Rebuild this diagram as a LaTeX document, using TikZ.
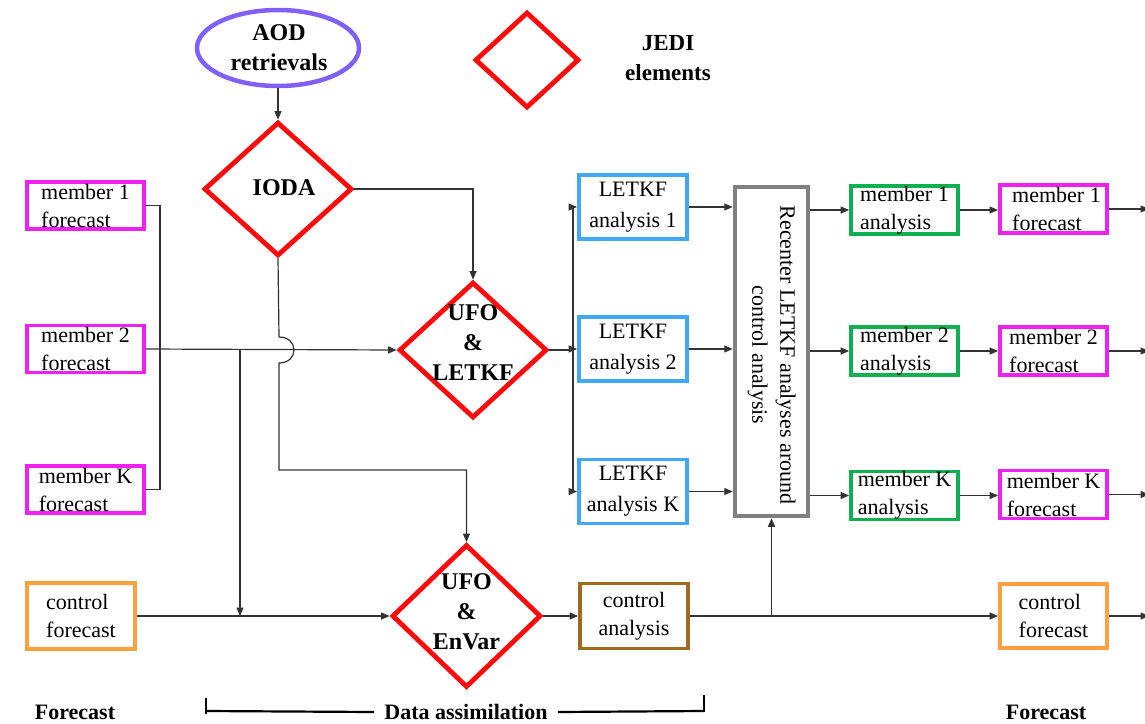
\documentclass[tikz,border=0pt]{standalone}
\usepackage{fontspec}
\setmainfont{Liberation Serif}
\usetikzlibrary{shapes.geometric,arrows.meta}
\definecolor{jred}{HTML}{FF0A0A}
\definecolor{jmag}{HTML}{F020F0}
\definecolor{jblue}{HTML}{40A8F5}
\definecolor{jgreen}{HTML}{10B050}
\definecolor{jorange}{HTML}{FFA040}
\definecolor{jbrown}{HTML}{9C6A20}
\definecolor{jgray}{HTML}{808080}
\definecolor{jpurple}{HTML}{8060F8}
\tikzset{
  box/.style={draw, line width=3.8pt, fill=white, inner sep=0pt, font=\fontsize{22}{28}\selectfont},
  magbox/.style={box, draw=jmag, minimum width=117pt, minimum height=47pt, align=left},
  bluebox/.style={box, draw=jblue, minimum width=108pt, minimum height=64pt, align=center, font=\fontsize{22}{31}\selectfont},
  greenbox/.style={box, draw=jgreen, minimum width=107pt, minimum height=48pt, align=left},
  orbox/.style={box, draw=jorange, minimum width=108pt, minimum height=66pt, align=left},
  dia/.style={draw=jred, line width=4.8pt, shape=diamond, inner sep=0pt, fill=white},
  conn/.style={line width=1.2pt, draw=black!80, -{Triangle[length=8.5pt,width=7pt]}},
  plain/.style={line width=1.2pt, draw=black!80},
  blbl/.style={font=\bfseries\fontsize{24}{30}\selectfont, align=center, inner sep=0pt},
  slbl/.style={font=\bfseries\fontsize{22}{30}\selectfont, align=center, inner sep=0pt},
}
\begin{document}
\begin{tikzpicture}[x=1pt,y=-1pt]
\fill[white] (0,0) rectangle (1145,723);
\useasboundingbox (0,0) rectangle (1145,723);

% top: AOD and legend
\node[draw=jpurple, line width=4.5pt, ellipse, minimum width=162pt, minimum height=76pt, inner sep=0pt] (aod) at (278,48) {};
\node[blbl] (aodt) at (279,48) {AOD\\retrievals};
\node[dia, minimum width=104pt, minimum height=96pt] (leg) at (527,60) {};
\node[blbl, font=\bfseries\fontsize{23}{30}\selectfont] (legt) at (668,58) {JEDI\\elements};

% diamonds
\node[dia, minimum width=148pt, minimum height=134pt] (ioda) at (278,189) {};
\node[blbl] (iodat) at (284,188) {IODA};
\node[dia, minimum width=148pt, minimum height=136pt] (ufo1) at (473,350) {};
\node[blbl] (ufo1t) at (473,343) {UFO\\\&\\LETKF};
\node[dia, minimum width=149pt, minimum height=143pt] (envar) at (466.5,616) {};
\node[blbl] (envart) at (466.5,612) {UFO\\\&\\EnVar};

% left forecasts
\node[magbox] (mf1L) at (85.5,205.5) {member 1\\forecast};
\node[magbox] (mf2L) at (85.5,349) {member 2\\forecast};
\node[magbox] (mfKL) at (85.5,489.5) {member K\\forecast};
\node[orbox] (cfL) at (81,616) {control\\forecast};

% LETKF analyses
\node[bluebox] (l1) at (633,207) {LETKF\\analysis 1};
\node[bluebox] (l2) at (633,349) {LETKF\\analysis 2};
\node[bluebox] (lK) at (633,491.5) {LETKF\\analysis K};

% recenter
\node[box, draw=jgray, line width=4.5pt, minimum width=73pt, minimum height=329pt] (rc) at (771.5,351.5) {};
\node[font=\fontsize{22}{28}\selectfont, align=center, rotate=-90, inner sep=0pt] (rct) at (771.5,355) {Recenter LETKF analyses around\\control analysis};

% member analyses
\node[greenbox] (ma1) at (904.5,210) {member 1\\analysis};
\node[greenbox] (ma2) at (904.5,351) {member 2\\analysis};
\node[greenbox] (maK) at (904.5,495.5) {member K\\analysis};

% right forecasts
\node[magbox, minimum width=107pt, minimum height=48pt, text depth=0pt] (mf1R) at (1053.5,209) {\hspace*{6pt}member 1\\\hspace*{6pt}forecast};
\node[magbox, minimum width=107pt, minimum height=48pt] (mf2R) at (1053.5,351) {member 2\\forecast};
\node[magbox, minimum width=107pt, minimum height=48pt] (mfKR) at (1053.5,494.5) {member K\\forecast};

% control analysis / forecast
\node[box, draw=jbrown, minimum width=108pt, minimum height=65pt, align=center] (ca) at (634,616) {control\\analysis};
\node[orbox, minimum width=107pt, minimum height=64pt] (cfR) at (1053.5,616) {control\\forecast};

% bottom labels
\node[slbl] (fl) at (75,712) {Forecast};
\node[slbl] (fr) at (1046,712) {Forecast};
\node[slbl, inner xsep=10pt] (da) at (466,712) {Data assimilation};
\coordinate (dl) at (206,711);
\coordinate (dr) at (704,711);
\draw[line width=2.2pt] (206,698) -- (206,714);
\draw[line width=2.2pt] (704,695) -- (704,712);
\draw[line width=2.2pt] (dl) -- (da.west);
\draw[line width=2.2pt] (da.east) -- (dr);

% connectors
\draw[conn] (aod.south) -- (ioda.north);
\draw[conn] (ioda.east) -| (ufo1.north);
\coordinate (jt) at (279,337);
\coordinate (jb) at (279,363);
\coordinate (ek) at (279,470);
\draw[conn] (ioda.south) -- (jt) .. controls +(20,0) and +(20,0) .. (jb) -- (ek) -| (envar.north);

\draw[plain] (mf1L.east) -- ++(14,0) |- (mfKL.east);
\draw[conn] (mf2L.east) -- (ufo1.west);
\coordinate (br) at (240,349);
\draw[conn] (br) -- (br |- cfL.east);
\draw[conn] (cfL.east) -- (envar.west);

\coordinate (sp) at (573,350);
\draw[plain] (ufo1.east) -- (sp);
\draw[plain] (sp |- l1.west) -- (sp |- lK.west);
\draw[conn] (sp |- l1.west) -- (l1.west);
\draw[conn] (sp |- l2.west) -- (l2.west);
\draw[conn] (sp |- lK.west) -- (lK.west);

\draw[conn] (l1.east) -- (l1.east -| rc.west);
\draw[conn] (l2.east) -- (l2.east -| rc.west);
\draw[conn] (lK.east) -- (lK.east -| rc.west);

\draw[conn] (ma1.west -| rc.east) -- (ma1.west);
\draw[conn] (ma2.west -| rc.east) -- (ma2.west);
\draw[conn] (maK.west -| rc.east) -- (maK.west);

\draw[conn] (ma1.east) -- (ma1.east -| mf1R.west);
\draw[conn] (ma2.east) -- (ma2.east -| mf2R.west);
\draw[conn] (maK.east) -- (maK.east -| mfKR.west);

\coordinate (edge) at (1149,0);
\draw[conn] (mf1R.east) -- (mf1R.east -| edge);
\draw[conn] (mf2R.east) -- (mf2R.east -| edge);
\draw[conn] (mfKR.east) -- (mfKR.east -| edge);

\draw[conn] (envar.east) -- (ca.west);
\draw[conn] (ca.east) -- (cfR.west);
\coordinate (b2) at (771.5,616);
\draw[conn] (b2) -- (rc.south);
\draw[conn] (cfR.east) -- (cfR.east -| edge);
\end{tikzpicture}
\end{document}
